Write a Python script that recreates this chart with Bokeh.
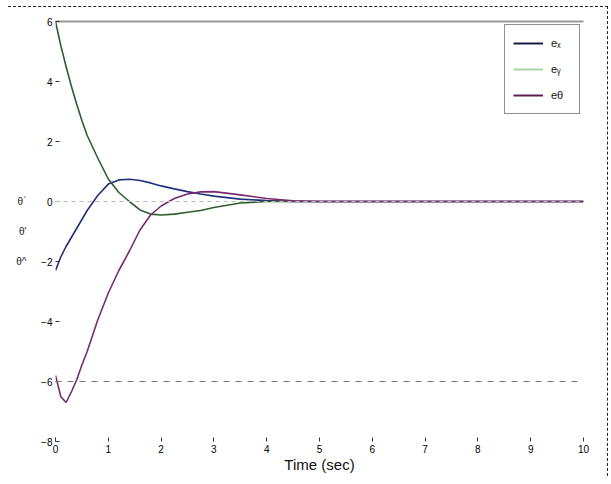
from bokeh.plotting import figure
from bokeh.models import Span, LinearAxis, Legend, LegendItem, FixedTicker
from bokeh.embed import file_html
from bokeh.resources import INLINE

# ---- data ----
t = [0, 0.1, 0.2, 0.3, 0.4, 0.5, 0.6, 0.8, 1.0, 1.2, 1.4, 1.6, 1.8, 2.0,
     2.25, 2.5, 2.75, 3.0, 3.5, 4.0, 4.5, 5.0, 6.0, 7.0, 8.0, 9.0, 10.0]
e_x = [-2.3, -1.85, -1.5, -1.2, -0.9, -0.6, -0.3, 0.2, 0.58, 0.72, 0.74, 0.7,
       0.62, 0.52, 0.42, 0.33, 0.25, 0.18, 0.08, 0.03, 0.0, 0.0, 0.0, 0.0, 0.0, 0.0, 0.0]
e_y = [6.0, 5.2, 4.5, 3.85, 3.25, 2.7, 2.2, 1.45, 0.75, 0.3, 0.0, -0.28,
       -0.42, -0.45, -0.42, -0.36, -0.3, -0.2, -0.05, 0.0, 0.0, 0.0, 0.0, 0.0, 0.0, 0.0, 0.0]
e_t = [-5.8, -6.5, -6.7, -6.35, -5.95, -5.45, -5.0, -3.95, -3.05, -2.3, -1.65, -0.95,
       -0.45, -0.15, 0.1, 0.25, 0.32, 0.33, 0.22, 0.1, 0.02, 0.0, 0.0, 0.0, 0.0, 0.0, 0.0]
labels = ["eₓ", "eᵧ", "eθ"]
x_ticks = [0, 1, 2, 3, 4, 5, 6, 7, 8, 9, 10]
y_ticks = [-8, -6, -4, -2, 0, 2, 4, 6]
side_texts = ["θ`", "θ'", "θ^"]
side_vals = [0, -1, -2]

FONT = "Liberation Sans"

p = figure(width=600, height=470, x_range=(0, 10), y_range=(-8, 6),
           output_backend="svg", toolbar_location=None,
           min_border_left=47, min_border_right=25, min_border_top=14,
           min_border_bottom=36)
p.styles = {"border-top": "1px dashed #222", "border-right": "1px dashed #222",
            "margin-left": "8px", "margin-top": "6px"}
p.outline_line_color = None
p.grid.visible = False
p.background_fill_color = "white"

for ax in (p.xaxis[0], p.yaxis[0]):
    ax.axis_line_color = None
    ax.major_tick_in = 4
    ax.major_tick_out = 0
    ax.minor_tick_line_color = None
    ax.major_tick_line_color = "#333"
    ax.major_label_text_font = FONT
    ax.major_label_text_font_size = "10px"
    ax.major_label_text_color = "#000"
    ax.major_label_standoff = 3
p.xaxis.ticker = FixedTicker(ticks=x_ticks)
p.yaxis.ticker = FixedTicker(ticks=y_ticks)
p.xaxis.axis_label = "Time (sec)"
p.xaxis.axis_label_text_font = FONT
p.xaxis.axis_label_text_font_style = "normal"
p.xaxis.axis_label_text_font_size = "15px"
p.xaxis.axis_label_text_color = "#111"
p.xaxis.axis_label_standoff = 0

# stray side labels to the left of the y axis
side = LinearAxis(ticker=FixedTicker(ticks=side_vals),
                  major_label_overrides={v: s for v, s in zip(side_vals, side_texts)},
                  axis_line_color=None, major_tick_line_color=None,
                  minor_tick_line_color=None, major_label_standoff=6,
                  major_label_text_font=FONT, major_label_text_font_size="10px",
                  major_label_text_color="#222")
p.add_layout(side, "left")

top = LinearAxis(ticker=FixedTicker(ticks=[]), axis_line_color="#999",
                 axis_line_width=2, major_tick_line_color=None,
                 minor_tick_line_color=None)
p.add_layout(top, "above")

p.add_layout(Span(location=0, dimension="width", line_color="#bbbbbb",
                  line_dash="4 4", line_width=1))
p.add_layout(Span(location=-6, dimension="width", line_color="#777777",
                  line_dash="6 6", line_width=1))

r1 = p.line(t, e_x, line_color="#22307a", line_width=1.6)
r2 = p.line(t, e_y, line_color="#2e5e2e", line_width=1.6)
r3 = p.line(t, e_t, line_color="#7a2a6e", line_width=1.6)

# legend proxy lines with the legend's own colours
l1 = p.line([0, 0], [100, 100], line_color="#1a1a4a", line_width=2)
l2 = p.line([0, 0], [100, 100], line_color="#a8d5a8", line_width=2)
l3 = p.line([0, 0], [100, 100], line_color="#5a2050", line_width=2)
legend = Legend(items=[LegendItem(label=labels[0], renderers=[l1]),
                       LegendItem(label=labels[1], renderers=[l2]),
                       LegendItem(label=labels[2], renderers=[l3])],
                location="top_right", margin=3, padding=8, spacing=6,
                glyph_width=30, glyph_height=20, label_height=20,
                label_standoff=8, label_text_font=FONT,
                label_text_font_size="11px", label_text_color="#111",
                border_line_color="#222",
                border_line_width=1.5, background_fill_alpha=1.0)
p.add_layout(legend)

open("out.html", "w").write(file_html(p, INLINE))
